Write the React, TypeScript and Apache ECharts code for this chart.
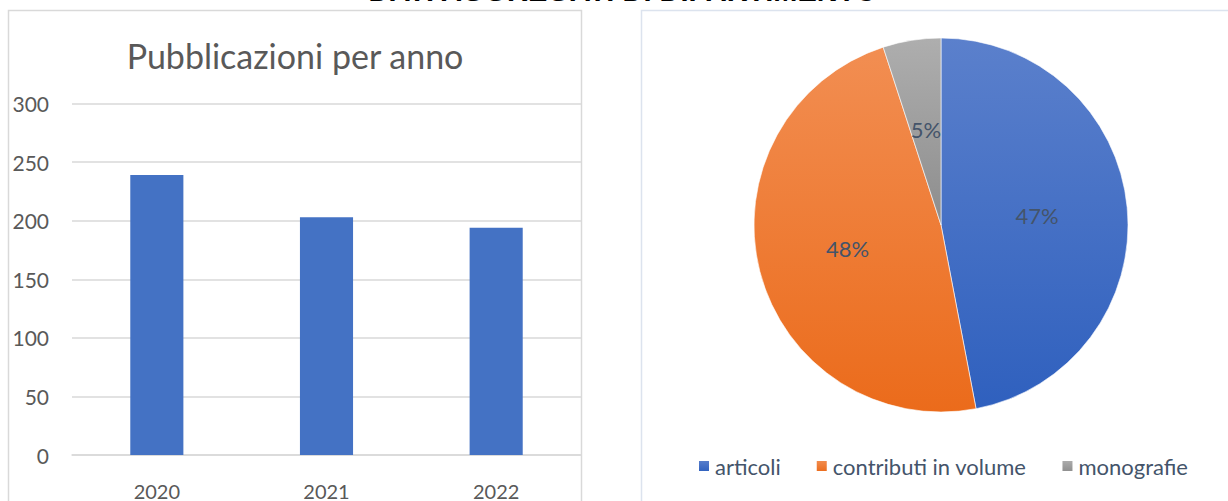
import React, { useEffect, useRef } from "react";
import * as echarts from "echarts";

const years = ["2020", "2021", "2022"];
const publications = [239, 203, 194];
const yTicks = { min: 0, max: 300, interval: 50 };

const pieCategories = ["articoli", "contributi in volume", "monografie"];
const pieValues = [47, 48, 5];

const pageTitle = "DATI AGGREGATI DI DIPARTIMENTO";
const barTitle = "Pubblicazioni per anno";

const FONT = "Lato, 'Open Sans', sans-serif";

const grad = (top: string, bottom: string) =>
  new echarts.graphic.LinearGradient(0, 0, 0, 1, [
    { offset: 0, color: top },
    { offset: 1, color: bottom },
  ]);

const pieColors = [
  grad("#5b80cc", "#2f60be"),
  grad("#f28e52", "#eb6b1b"),
  grad("#aeaeae", "#8d8d8d"),
];

export default function App() {
  const ref = useRef<HTMLDivElement>(null);
  useEffect(() => {
    if (!ref.current) return;
    const chart = echarts.init(ref.current, null, { renderer: "svg" });
    chart.setOption({
      animation: false,
      backgroundColor: "#ffffff",
      textStyle: { fontFamily: FONT },
      graphic: [
        {
          type: "rect",
          shape: { x: 8.5, y: 10.5, width: 573, height: 520 },
          style: { fill: "none", stroke: "#d9d9d9", lineWidth: 1.5 },
          silent: true,
          z: 0,
        },
        {
          type: "rect",
          shape: { x: 641.5, y: 10.5, width: 620, height: 520 },
          style: { fill: "none", stroke: "#dce3ee", lineWidth: 1.5 },
          silent: true,
          z: 0,
        },
        {
          type: "text",
          x: 623,
          y: 5,
          style: {
            text: pageTitle,
            fill: "#000000",
            font: "bold 29px 'Liberation Sans', Arial, sans-serif",
            textAlign: "center",
            textVerticalAlign: "bottom",
          },
          z: 10,
        },
        {
          type: "text",
          x: 295,
          y: 55,
          style: {
            text: barTitle,
            fill: "#595959",
            font: `34px ${FONT}`,
            textAlign: "center",
            textVerticalAlign: "middle",
          },
          z: 10,
        },
      ],
      grid: {
        left: 72,
        right: 1228 - 581,
        top: 103.5,
        bottom: 37,
        containLabel: false,
      },
      xAxis: {
        type: "category",
        data: years,
        axisLine: { show: true, lineStyle: { color: "#d9d9d9", width: 1.5 } },
        axisTick: { show: false },
        axisLabel: { color: "#595959", fontSize: 20, margin: 26, fontFamily: FONT },
        splitLine: { show: false },
      },
      yAxis: {
        type: "value",
        min: yTicks.min,
        max: yTicks.max,
        interval: yTicks.interval,
        axisLine: { show: false },
        axisTick: { show: false },
        axisLabel: { color: "#595959", fontSize: 21, margin: 23, fontFamily: FONT },
        splitLine: { lineStyle: { color: "#d9d9d9", width: 1.5 } },
      },
      legend: {
        data: pieCategories,
        left: 692,
        top: 450,
        icon: "rect",
        itemWidth: 12,
        itemHeight: 12,
        itemGap: 34,
        textStyle: { color: "#44546a", fontSize: 22, fontFamily: FONT },
      },
      series: [
        {
          type: "bar",
          data: publications,
          barWidth: "31.3%",
          itemStyle: { color: "#4472c4" },
        },
        {
          type: "pie",
          center: [941, 225],
          radius: 187,
          startAngle: 90,
          clockwise: true,
          data: pieCategories.map((name, i) => ({
            name,
            value: pieValues[i],
            itemStyle: { color: pieColors[i] },
          })),
          itemStyle: { borderColor: "#ffffff", borderWidth: 0.6 },
          label: {
            show: true,
            position: "inside",
            formatter: (p: any) => `${Math.round(p.percent)}%`,
            color: "#44546a",
            fontSize: 22,
            fontFamily: FONT,
          },
          labelLine: { show: false },
          emphasis: { disabled: true },
        },
      ],
    });
    return () => chart.dispose();
  }, []);
  return (
    <div
      ref={ref}
      style={{ position: "fixed", left: 0, top: 0, width: 1228, height: 501 }}
    />
  );
}
